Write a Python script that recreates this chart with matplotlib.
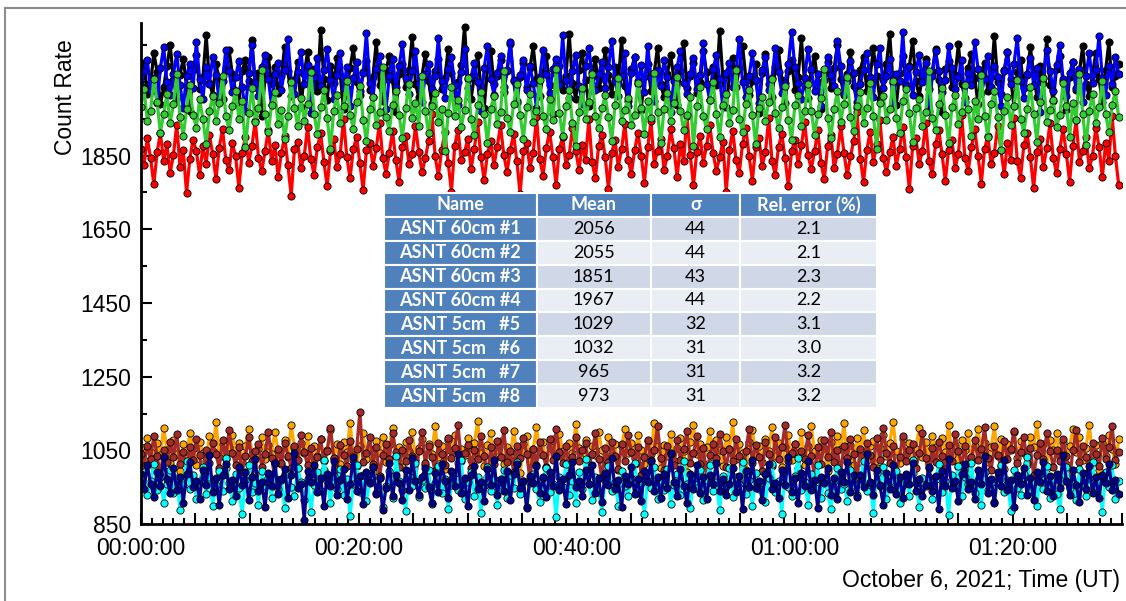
import numpy as np
import matplotlib
matplotlib.use("Agg")
import matplotlib.pyplot as plt
from matplotlib.ticker import MultipleLocator, FixedLocator, FuncFormatter
from matplotlib.lines import Line2D

# count rates, one sample every 18 s (values estimated from the plot)
ct_1 = [2063, 2101, 2018, 2044, 2129, 2077, 1989, 2035, 2092, 2150,
        2056, 2007, 2068, 2113, 2040, 1971, 2083, 2124, 2031, 2062,
        2176, 2048, 2015, 2097, 2059, 2002, 2088, 2137, 2071, 2026,
        1995, 2080, 2109, 2052, 2163, 2037, 2074, 1958, 2061, 2118,
        2043, 2091, 2020, 2067, 2145, 2079, 2011, 2054, 2103, 1982,
        2072, 2131, 2039, 2085, 2024, 2190, 2058, 2000, 2094, 2047,
        2115, 2069, 1976, 2033, 2087, 2142, 2050, 2013, 2076, 2106,
        2029, 2064, 2158, 2042, 1998, 2083, 2120, 2055, 1967, 2070,
        2099, 2036, 2081, 2171, 2045, 2009, 2066, 2126, 2053, 1991,
        2078, 2112, 2030, 2061, 2140, 2073, 2016, 2049, 2095, 2199,
        2057, 2004, 2068, 2122, 2038, 1979, 2086, 2134, 2043, 2065,
        2108, 2023, 2079, 2153, 2051, 1993, 2062, 2100, 2035, 2087,
        2146, 2058, 2012, 2074, 2119, 2041, 1962, 2070, 2093, 2027,
        2065, 2181, 2046, 2003, 2082, 2128, 2054, 1985, 2077, 2111,
        2032, 2060, 2137, 2069, 2017, 2091, 2048, 2164, 2039, 1997,
        2084, 2116, 2052, 1974, 2063, 2098, 2026, 2075, 2143, 2044,
        2008, 2071, 2123, 2059, 1988, 2080, 2155, 2034, 2066, 2102,
        2019, 2050, 2133, 2076, 2001, 2089, 2040, 2187, 2057, 1981,
        2068, 2114, 2037, 2085, 2148, 2061, 2014, 2053, 2097, 1966,
        2073, 2126, 2045, 2010, 2090, 2135, 2056, 1992, 2079, 2109,
        2028, 2064, 2168, 2042, 2006, 2081, 2120, 2049, 1977, 2072,
        2104, 2033, 2087, 2151, 2058, 2015, 2070, 2130, 2038, 1996,
        2083, 2117, 2025, 2062, 2141, 2067, 2003, 2055, 2099, 2179,
        2047, 1986, 2074, 2121, 2041, 2092, 2160, 2052, 2011, 2066,
        2113, 2030, 2078, 2139, 2054, 1969, 2085, 2107, 2036, 2069,
        2152, 2044, 2007, 2088, 2125, 2060, 1990, 2073, 2101, 2024,
        2063, 2174, 2049, 2016, 2082, 2132, 2057, 1983, 2076, 2110,
        2034, 2068, 2144, 2071, 2009, 2094, 2046, 2166, 2040, 1999,
        2086, 2119, 2051, 1973, 2064, 2103, 2027, 2077, 2147, 2045,
        2012, 2072, 2127, 2058, 1994, 2081, 2157, 2037, 2065, 2098]
ct_2 = [2038, 2079, 2110, 2026, 2061, 1992, 2087, 2144, 2050, 2013,
        2072, 2125, 2041, 1980, 2066, 2098, 2033, 2159, 2057, 2004,
        2091, 2045, 2118, 2069, 1997, 2053, 2136, 2080, 2021, 2064,
        2106, 2035, 1970, 2075, 2149, 2048, 2011, 2089, 2123, 2058,
        1986, 2070, 2101, 2029, 2083, 2165, 2052, 2016, 2077, 2131,
        2043, 2095, 1965, 2062, 2114, 2039, 2081, 2140, 2056, 2002,
        2068, 2127, 2034, 2090, 1983, 2059, 2104, 2024, 2073, 2182,
        2047, 2009, 2086, 2120, 2055, 1976, 2067, 2111, 2037, 2093,
        2152, 2060, 2018, 2079, 2133, 2044, 1994, 2071, 2099, 2030,
        2065, 2170, 2051, 2007, 2084, 2117, 2040, 1988, 2076, 2138,
        2032, 2063, 2102, 2049, 1972, 2088, 2146, 2058, 2015, 2074,
        2121, 2036, 2082, 2158, 2054, 1999, 2069, 2108, 2027, 2092,
        2047, 1979, 2063, 2135, 2071, 2020, 2085, 2113, 2041, 2176,
        2056, 2005, 2078, 2124, 2039, 1991, 2094, 2143, 2062, 2028,
        2070, 2105, 2033, 2089, 2161, 2052, 2012, 2066, 2129, 1984,
        2075, 2118, 2045, 2096, 2023, 2148, 2060, 1997, 2081, 2038,
        2109, 2064, 1968, 2053, 2090, 2134, 2046, 2017, 2072, 2115,
        2031, 2068, 2155, 2043, 2001, 2085, 2122, 2057, 1981, 2074,
        2100, 2035, 2079, 2167, 2049, 2010, 2065, 2127, 2055, 1993,
        2083, 2116, 2029, 2061, 2142, 2076, 2019, 2048, 2097, 2185,
        2090, 2047, 2003, 2061, 2138, 2085, 2026, 2072, 1985, 2056,
        2117, 2068, 2039, 2160, 2094, 2017, 2051, 2106, 2075, 1978,
        2043, 2082, 2129, 2060, 2008, 2097, 2141, 2034, 2065, 2113,
        1991, 2070, 2052, 2184, 2038, 2089, 2014, 2076, 2124, 2049,
        2101, 1972, 2066, 2133, 2079, 2022, 2055, 2146, 2087, 2031,
        2062, 2109, 1996, 2073, 2040, 2157, 2084, 2019, 2058, 2120,
        2036, 2093, 2064, 1983, 2078, 2130, 2045, 2099, 2169, 2053,
        2006, 2071, 2115, 2042, 2088, 1967, 2060, 2137, 2080, 2024,
        2095, 2151, 2057, 2012, 2074, 2103, 2033, 2086, 1994, 2067,
        2128, 2048, 2083, 2175, 2061, 2015, 2092, 2044, 2118, 2070]
ct_3 = [1868, 1825, 1897, 1843, 1772, 1859, 1911, 1836, 1880, 1803,
        1852, 1934, 1819, 1866, 1748, 1841, 1893, 1862, 1797, 1875,
        1828, 1905, 1854, 1786, 1871, 1922, 1839, 1810, 1884, 1848,
        1763, 1857, 1899, 1831, 1876, 1945, 1844, 1807, 1863, 1918,
        1835, 1878, 1793, 1856, 1902, 1824, 1740, 1869, 1887, 1815,
        1850, 1927, 1840, 1798, 1873, 1910, 1833, 1767, 1861, 1894,
        1818, 1855, 1950, 1846, 1789, 1867, 1901, 1829, 1756, 1864,
        1885, 1822, 1870, 1938, 1843, 1801, 1858, 1916, 1837, 1779,
        1872, 1903, 1826, 1853, 1929, 1860, 1805, 1842, 1889, 1964,
        1849, 1794, 1865, 1913, 1830, 1752, 1877, 1920, 1838, 1859,
        1896, 1814, 1868, 1941, 1845, 1783, 1854, 1890, 1823, 1874,
        1932, 1851, 1806, 1866, 1908, 1834, 1745, 1862, 1883, 1817,
        1857, 1955, 1840, 1795, 1871, 1915, 1847, 1770, 1869, 1900,
        1825, 1852, 1924, 1863, 1811, 1879, 1837, 1948, 1832, 1788,
        1876, 1906, 1845, 1760, 1858, 1891, 1819, 1867, 1936, 1839,
        1800, 1864, 1912, 1850, 1776, 1873, 1943, 1828, 1861, 1895,
        1812, 1848, 1921, 1870, 1792, 1881, 1834, 1958, 1851, 1769,
        1860, 1904, 1831, 1877, 1933, 1856, 1808, 1846, 1888, 1751,
        1866, 1917, 1838, 1802, 1882, 1926, 1849, 1782, 1872, 1898,
        1821, 1859, 1952, 1835, 1797, 1874, 1909, 1843, 1766, 1863,
        1892, 1827, 1879, 1940, 1852, 1813, 1861, 1919, 1830, 1785,
        1875, 1907, 1816, 1855, 1930, 1858, 1796, 1848, 1890, 1967,
        1841, 1778, 1865, 1914, 1833, 1880, 1946, 1844, 1804, 1859,
        1901, 1822, 1869, 1928, 1847, 1758, 1876, 1897, 1828, 1862,
        1939, 1836, 1799, 1881, 1918, 1853, 1781, 1866, 1893, 1816,
        1855, 1960, 1842, 1808, 1873, 1921, 1849, 1774, 1868, 1903,
        1826, 1857, 1931, 1864, 1800, 1885, 1839, 1953, 1834, 1790,
        1878, 1910, 1846, 1761, 1860, 1895, 1818, 1871, 1937, 1843,
        1803, 1867, 1923, 1854, 1779, 1877, 1947, 1832, 1863, 1899,
        1815, 1850, 1925, 1874, 1791, 1883, 1836, 1957, 1848, 1771]
ct_4 = [1982, 2030, 1945, 1971, 2058, 1996, 1912, 1963, 2017, 1938,
        1989, 2071, 1954, 1903, 1976, 2040, 1960, 1925, 2003, 1948,
        1880, 1970, 2012, 1943, 1992, 2065, 1957, 1919, 1985, 2026,
        1950, 1998, 1872, 1966, 2034, 1941, 1978, 2082, 1962, 1914,
        1987, 2021, 1936, 1973, 1896, 1958, 2049, 1979, 1929, 2007,
        1944, 1991, 2076, 1964, 1908, 1981, 2028, 1953, 1867, 1972,
        2014, 1939, 1984, 2053, 1961, 1922, 1995, 2039, 1947, 1889,
        1975, 2009, 1933, 1968, 2090, 1955, 1917, 1988, 2024, 1959,
        1898, 1979, 2044, 1951, 1993, 1930, 2067, 1970, 1910, 1983,
        2019, 1942, 1976, 1861, 1965, 2036, 1956, 2001, 1927, 1974,
        2061, 1948, 1906, 1986, 2022, 1963, 1884, 1977, 2011, 1935,
        1969, 2079, 1952, 1915, 1990, 2043, 1960, 1895, 1981, 2016,
        1940, 1972, 2055, 1958, 1921, 2004, 1946, 2086, 1966, 1902,
        1985, 2027, 1937, 1875, 1968, 2032, 1949, 1994, 2070, 1957,
        1926, 1978, 2013, 1954, 1890, 1987, 2059, 1944, 1973, 2006,
        1932, 1961, 2047, 1980, 1909, 1999, 1953, 2074, 1967, 1885,
        1976, 2020, 1943, 1992, 2063, 1971, 1918, 1959, 2008, 1877,
        1983, 2035, 1956, 1923, 2000, 2050, 1964, 1899, 1988, 2018,
        1937, 1974, 2081, 1950, 1913, 1990, 2029, 1961, 1881, 1979,
        2010, 1945, 1996, 2057, 1966, 1924, 1982, 2039, 1947, 1893,
        1986, 2015, 1931, 1970, 2045, 1972, 1907, 1962, 2005, 2084,
        1953, 1897, 1977, 2025, 1941, 1991, 2064, 1955, 1916, 1984,
        2023, 1939, 1980, 2048, 1958, 1869, 1993, 2012, 1946, 1975,
        2052, 1952, 1911, 1997, 2031, 1965, 1887, 1978, 2002, 1929,
        1968, 2078, 1951, 1920, 1989, 2033, 1960, 1883, 1981, 2014,
        1936, 1969, 2042, 1975, 1904, 1998, 1948, 2068, 1957, 1900,
        1990, 2024, 1955, 1866, 1971, 2009, 1934, 1985, 2056, 1950,
        1912, 1976, 2037, 1963, 1888, 1994, 2061, 1940, 1973, 2001,
        1928, 1959, 2046, 1984, 1901, 1992, 1947, 2072, 1964, 1878,
        1970, 2018, 1938, 1981, 2051, 1962, 1914, 1987, 2026, 1954]
ct_5 = [1041, 1008, 1062, 1027, 1089, 1035, 983, 1050, 1019, 1073,
        1031, 1095, 1012, 1046, 998, 1058, 1024, 1081, 1037, 965,
        1052, 1017, 1069, 1039, 1003, 1078, 1026, 1106, 1044, 1011,
        1060, 991, 1034, 1085, 1021, 1048, 1066, 1006, 1040, 1099,
        1029, 976, 1055, 1015, 1071, 1036, 1002, 1063, 1023, 1092,
        1045, 1010, 1057, 986, 1033, 1080, 1020, 1049, 1112, 1030,
        999, 1064, 1038, 1007, 1075, 1025, 1053, 1154, 1018, 1042,
        1086, 1013, 1059, 980, 1037, 1068, 1027, 1096, 1046, 1004,
        1051, 1022, 1079, 1034, 969, 1047, 1101, 1016, 1061, 1032,
        994, 1070, 1039, 1009, 1083, 1028, 1056, 1118, 1021, 1043,
        1065, 1001, 1050, 1026, 1090, 1036, 979, 1058, 1014, 1076,
        1033, 1104, 1019, 1048, 992, 1062, 1029, 1084, 1040, 971,
        1054, 1011, 1072, 1037, 1005, 1081, 1024, 1109, 1045, 1015,
        1063, 988, 1032, 1087, 1022, 1051, 1069, 1003, 1041, 1098,
        1027, 974, 1057, 1018, 1074, 1035, 1000, 1066, 1020, 1093,
        1046, 1012, 1060, 984, 1031, 1079, 1023, 1052, 1115, 1030,
        997, 1061, 1039, 1009, 1077, 1025, 1055, 1102, 1016, 1043,
        1088, 1014, 1056, 978, 1038, 1067, 1028, 1095, 1047, 1006,
        1053, 1021, 1080, 1035, 967, 1049, 1107, 1017, 1064, 1031,
        993, 1072, 1040, 1008, 1085, 1026, 1058, 1120, 1022, 1044,
        1067, 1002, 1048, 1027, 1091, 1034, 981, 1059, 1013, 1077,
        1032, 1100, 1018, 1050, 990, 1063, 1030, 1082, 1041, 973,
        1055, 1010, 1070, 1038, 1004, 1083, 1025, 1111, 1044, 1016,
        1062, 987, 1033, 1089, 1021, 1052, 1068, 1001, 1042, 1097,
        1028, 977, 1056, 1019, 1073, 1036, 999, 1065, 1021, 1094,
        1047, 1011, 1061, 985, 1032, 1078, 1024, 1053, 1113, 1029,
        996, 1063, 1038, 1008, 1076, 1026, 1054, 1103, 1017, 1045,
        1087, 1015, 1057, 982, 1037, 1069, 1027, 1097, 1048, 1005,
        1052, 1020, 1081, 1034, 970, 1050, 1105, 1018, 1063, 1033,
        995, 1071, 1041, 1007, 1084, 1027, 1059, 1116, 1023, 1046]
ct_6 = [1060, 1025, 1083, 1046, 1004, 1071, 1037, 1112, 1052, 1015,
        1079, 1040, 995, 1066, 1029, 1098, 1055, 1010, 1074, 1043,
        1021, 1088, 1049, 1127, 1033, 1068, 1001, 1058, 1093, 1036,
        1070, 1018, 1062, 1107, 1041, 986, 1053, 1085, 1026, 1064,
        1039, 1101, 1048, 1012, 1077, 1031, 1119, 1057, 1003, 1069,
        1044, 1090, 1022, 1061, 1035, 1081, 998, 1050, 1104, 1030,
        1067, 1014, 1072, 1045, 1125, 1038, 1008, 1063, 1096, 1027,
        1054, 991, 1076, 1042, 1087, 1019, 1065, 1110, 1034, 1059,
        1006, 1073, 1047, 1099, 1024, 1056, 1082, 1011, 1068, 1040,
        1116, 1032, 1061, 1000, 1078, 1049, 1092, 1017, 1055, 1037,
        1084, 1023, 1070, 1129, 1043, 1007, 1064, 1097, 1028, 1051,
        1075, 1013, 1058, 1035, 1103, 1046, 989, 1066, 1089, 1020,
        1053, 1114, 1039, 1072, 1005, 1060, 1080, 1031, 1094, 1048,
        1016, 1069, 1042, 1121, 1057, 1026, 1077, 1009, 1063, 1038,
        1100, 1050, 1019, 1085, 1034, 1067, 996, 1059, 1108, 1044,
        1071, 1029, 1091, 1052, 1012, 1076, 1040, 1124, 1061, 1002,
        1065, 1036, 1095, 1021, 1056, 1083, 1047, 992, 1073, 1118,
        1041, 1068, 1015, 1060, 1102, 1033, 1079, 1050, 1008, 1086,
        1054, 1126, 1027, 1066, 1044, 997, 1074, 1106, 1038, 1062,
        1018, 1081, 1049, 1113, 1035, 1070, 1004, 1058, 1092, 1025,
        1067, 1042, 1099, 1011, 1063, 1117, 1047, 1020, 1078, 1056,
        994, 1072, 1039, 1088, 1053, 1123, 1030, 1064, 1009, 1083,
        1045, 1105, 1024, 1061, 1076, 1001, 1057, 1093, 1036, 1070,
        1128, 1048, 1016, 1080, 1040, 1069, 988, 1055, 1111, 1033,
        1074, 1027, 1090, 1059, 1013, 1084, 1046, 1120, 1037, 1065,
        1006, 1077, 1051, 1097, 1022, 1063, 1109, 1043, 1071, 1019,
        1058, 1115, 1034, 1082, 999, 1066, 1050, 1101, 1028, 1075,
        1044, 1010, 1087, 1060, 1122, 1039, 1068, 1003, 1079, 1052,
        1096, 1031, 1073, 1014, 1062, 1107, 1045, 1085, 1023, 1057,
        1118, 1041, 1064, 996, 1070, 1035, 1093, 1054, 1012, 1080]
ct_7 = [951, 990, 928, 968, 1012, 943, 979, 906, 960, 997,
        935, 974, 889, 957, 1021, 946, 983, 917, 966, 1004,
        931, 978, 899, 955, 993, 940, 1030, 962, 912, 985,
        948, 877, 970, 1009, 937, 961, 903, 995, 952, 976,
        920, 1016, 944, 969, 894, 987, 950, 926, 1003, 963,
        915, 973, 882, 956, 991, 939, 1025, 967, 908, 981,
        945, 999, 930, 971, 872, 958, 1011, 938, 984, 913,
        964, 1006, 934, 975, 897, 953, 994, 922, 1034, 966,
        942, 885, 980, 954, 1015, 924, 969, 947, 996, 904,
        961, 1008, 933, 972, 891, 957, 988, 943, 1023, 918,
        965, 992, 927, 977, 880, 954, 1005, 939, 971, 901,
        956, 998, 921, 982, 948, 1018, 932, 968, 895, 962,
        987, 944, 910, 974, 1001, 936, 960, 869, 979, 950,
        1013, 928, 966, 907, 990, 946, 1027, 958, 916, 977,
        938, 884, 970, 1007, 941, 963, 900, 993, 953, 925,
        976, 1017, 935, 961, 876, 983, 947, 1004, 919, 967,
        943, 1000, 905, 955, 986, 929, 1022, 959, 893, 973,
        949, 996, 914, 969, 1010, 940, 964, 887, 981, 954,
        1002, 923, 978, 958, 1019, 932, 970, 898, 988, 945,
        963, 911, 975, 1014, 937, 968, 878, 994, 951, 927,
        980, 1028, 942, 965, 902, 985, 948, 1009, 921, 972,
        934, 890, 967, 1003, 944, 960, 912, 997, 955, 930,
        974, 1020, 939, 962, 881, 989, 952, 1006, 917, 968,
        946, 995, 908, 957, 984, 927, 1024, 961, 896, 976,
        953, 1001, 919, 971, 1012, 938, 966, 875, 982, 950,
        1007, 925, 979, 959, 1016, 933, 969, 903, 991, 942,
        962, 909, 977, 1011, 936, 970, 886, 998, 949, 928,
        985, 1031, 940, 964, 900, 986, 945, 1008, 920, 973,
        931, 892, 968, 1005, 947, 958, 914, 999, 956, 926,
        975, 1018, 937, 963, 883, 990, 951, 1010, 918, 967]
ct_8 = [985, 946, 1010, 960, 924, 992, 953, 1031, 971, 933,
        1001, 942, 979, 908, 987, 1019, 950, 966, 918, 996,
        957, 1038, 938, 975, 902, 984, 1013, 945, 969, 926,
        1005, 955, 990, 914, 977, 1026, 941, 963, 895, 989,
        952, 1015, 931, 972, 999, 922, 982, 1044, 947, 959,
        861, 994, 965, 1009, 936, 976, 899, 986, 952, 1021,
        928, 970, 1000, 917, 958, 1033, 940, 981, 905, 991,
        962, 1006, 932, 974, 888, 949, 1017, 925, 984, 961,
        915, 997, 943, 1028, 967, 929, 978, 1003, 951, 907,
        988, 937, 1012, 968, 920, 993, 954, 1040, 934, 975,
        898, 982, 1008, 946, 964, 912, 1000, 957, 1024, 930,
        972, 941, 995, 916, 986, 1014, 948, 968, 893, 980,
        961, 1007, 935, 977, 923, 990, 953, 1036, 942, 971,
        904, 983, 1018, 950, 966, 927, 998, 959, 1011, 933,
        976, 910, 989, 955, 1029, 944, 969, 897, 981, 958,
        1004, 931, 973, 913, 994, 963, 1020, 939, 979, 921,
        985, 949, 1042, 965, 926, 999, 954, 906, 987, 945,
        1009, 934, 977, 919, 983, 960, 1016, 940, 972, 928,
        958, 1002, 937, 981, 890, 993, 951, 1025, 947, 968,
        914, 986, 1013, 944, 962, 920, 997, 956, 1032, 936,
        974, 908, 988, 952, 1022, 942, 970, 894, 979, 961,
        1003, 929, 975, 917, 991, 965, 1019, 938, 982, 924,
        984, 950, 1039, 963, 930, 998, 955, 903, 989, 946,
        1010, 932, 978, 921, 985, 959, 1015, 941, 971, 927,
        957, 1005, 939, 980, 892, 994, 952, 1027, 948, 967,
        912, 987, 1014, 945, 963, 918, 996, 958, 1034, 935,
        973, 906, 990, 954, 1023, 943, 969, 896, 983, 960,
        1001, 930, 976, 915, 992, 964, 1018, 939, 980, 925,
        986, 948, 1037, 966, 928, 997, 956, 909, 988, 944,
        1008, 933, 979, 922, 984, 961, 1012, 942, 970, 931]

minutes = np.arange(len(ct_1)) * 0.3

# drawing order matters: later series sit on top
series = [(ct_1, "black"), (ct_2, "#0000ff"), (ct_3, "#ff0000"), (ct_4, "#33cc33"),
          (ct_6, "#ffa500"), (ct_5, "#a52a2a"), (ct_7, "#00ffff"), (ct_8, "#00008b")]

names = ["ASNT 60cm #1", "ASNT 60cm #2", "ASNT 60cm #3", "ASNT 60cm #4",
         "ASNT 5cm   #5", "ASNT 5cm   #6", "ASNT 5cm   #7", "ASNT 5cm   #8"]
means = ["2056", "2055", "1851", "1967", "1029", "1032", "965", "973"]
sigmas = ["44", "44", "43", "44", "32", "31", "31", "31"]
rel_err = ["2.1", "2.1", "2.3", "2.2", "3.1", "3.0", "3.2", "3.2"]

plt.rcParams['font.family'] = ['Liberation Sans', 'DejaVu Sans']

fig = plt.figure(figsize=(11.26, 6.01), dpi=100)
ax = fig.add_axes([0.125, 0.128, 0.8714, 0.834])

for vals, col in series:
    ax.plot(minutes, vals, '-o', color=col, lw=2.3, ms=5.2,
            mec='black', mew=0.6)

ax.set_xlim(0, 90)
ax.set_ylim(850, 2210)
for s in ['top', 'right']:
    ax.spines[s].set_visible(False)
for s in ['left', 'bottom']:
    ax.spines[s].set_linewidth(2)

ax.xaxis.set_major_locator(MultipleLocator(5))
ax.xaxis.set_minor_locator(MultipleLocator(1))

def hms(v, pos):
    if round(v) % 20 != 0:
        return ""
    m = int(round(v))
    return "%02d:%02d:00" % (m // 60, m % 60)

ax.xaxis.set_major_formatter(FuncFormatter(hms))
ax.yaxis.set_major_locator(FixedLocator([850, 1050, 1250, 1450, 1650, 1850, 2050]))
ax.yaxis.set_major_formatter(FuncFormatter(lambda v, p: "" if v > 2000 else "%d" % v))
ax.yaxis.set_minor_locator(FixedLocator([950, 1150, 1350, 1550, 1750, 1950, 2150]))
ax.tick_params(which='both', direction='in', width=1.5, labelsize=16.5, colors='black')
ax.tick_params(which='major', length=8)
ax.tick_params(which='minor', length=4)
ax.tick_params(axis='x', pad=9)
ax.tick_params(axis='y', pad=7)

fig.text(0.058, 0.838, "Count Rate", rotation=90, fontsize=16.5, ha='center', va='center')
fig.text(0.995, 0.034, "October 6, 2021; Time (UT)", fontsize=16.5, ha='right', va='center')

# summary table
hdr_blue = "#4f81bd"
cells = [[n, m, s, r] for n, m, s, r in zip(names, means, sigmas, rel_err)]
tab = ax.table(cellText=cells, colLabels=["Name", "Mean", "σ", "Rel. error (%)"],
               cellLoc='center', bbox=[0.2477, 0.2315, 0.5026, 0.4292],
               colWidths=[0.306, 0.229, 0.179, 0.274])
tab.auto_set_font_size(False)
for (r, c), cell in tab.get_celld().items():
    cell.set_edgecolor('white')
    cell.set_linewidth(1.5)
    txt = cell.get_text()
    txt.set_fontfamily(['Lato', 'DejaVu Sans'])
    txt.set_fontsize(13)
    if r == 0 or c == 0:
        cell.set_facecolor(hdr_blue)
        txt.set_color('white')
        txt.set_fontweight('bold')
    else:
        cell.set_facecolor("#d0d8e8" if r % 2 == 1 else "#e9edf4")
        txt.set_color('black')
tab.set_zorder(5)

# outer frame of the screenshot
fig.add_artist(Line2D([0.0045, 1.0], [0.987, 0.987], transform=fig.transFigure, color='#8c8c8c', lw=1.5))
fig.add_artist(Line2D([0.0045, 0.0045], [0.0, 0.987], transform=fig.transFigure, color='#8c8c8c', lw=1.5))

fig.savefig("out.png", dpi=100)
